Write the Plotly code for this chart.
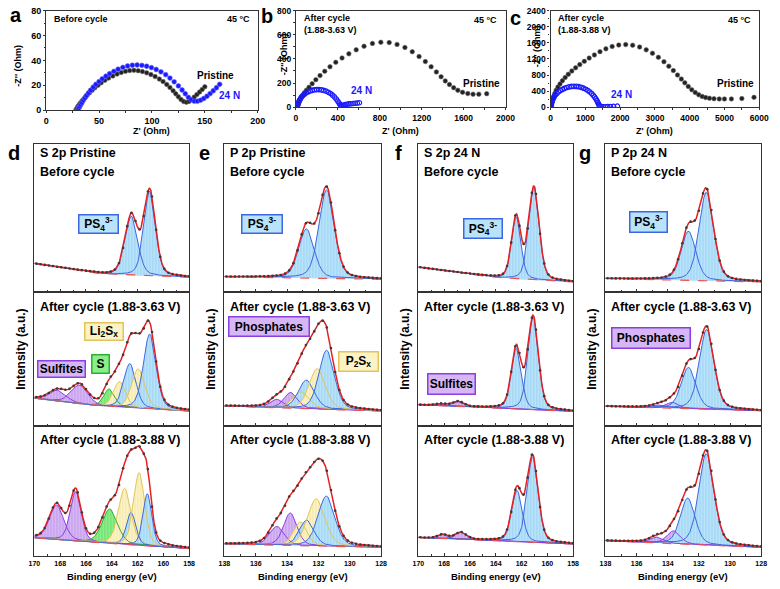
import numpy as np
import plotly.graph_objects as go

FIG_W, FIG_H = 780, 589
FONT = "Liberation Sans"

# ---------------- EIS (Nyquist) data ----------------
# (a) before cycle
a_pri_zre = [28, 28.8, 29.6, 30.5, 31.5, 32.6, 34, 35.5, 37.2, 39, 41, 43.5, 46, 49, 52, 55.5, 59, 63, 67, 71, 75, 79, 83, 87, 91, 95, 99, 103, 107, 110.5, 114, 117, 120, 122.5, 125, 127.5, 130, 132.5, 135, 137.5, 140, 142.5, 145, 147.5, 150]
a_pri_zim = [0, 1.2, 2.4, 3.6, 4.8, 6, 7.5, 9, 10.6, 12.3, 14, 16, 18, 20, 22, 24, 25.8, 27.5, 29, 30.3, 31.2, 31.8, 32, 31.7, 31, 30, 28.6, 27, 25, 23, 20.7, 18.3, 15.6, 13.2, 10.8, 8.6, 7, 6.4, 7, 8.5, 10.5, 12.5, 14.6, 16.7, 18.8]
a_24n_zre = [30, 30.8, 31.7, 32.7, 33.8, 35, 36.5, 38, 40, 42, 44.5, 47, 50, 53, 56.5, 60, 64, 68, 72.5, 77, 81.5, 86, 90.5, 95, 99.5, 104, 108.5, 113, 117, 121, 125, 128.5, 131.5, 134.5, 137, 140, 143, 146, 149, 152, 155, 158, 161, 164]
a_24n_zim = [0, 1.5, 3, 4.5, 6, 7.8, 9.7, 11.6, 13.8, 16, 18.5, 20.8, 23, 25.2, 27.3, 29.3, 31.2, 32.9, 34.4, 35.5, 36.1, 36.3, 36, 35.3, 34.2, 32.7, 30.8, 28.5, 25.8, 22.8, 19.5, 16.2, 13.2, 10.3, 8.3, 7.2, 7.2, 8, 9.4, 11.2, 13.3, 15.6, 18, 20.8]
# (b) after cycle 1.88-3.63 V
b_pri_zre = [15, 22, 30, 40, 52, 66, 82, 100, 125, 155, 190, 230, 275, 325, 380, 440, 505, 575, 650, 730, 810, 890, 965, 1040, 1110, 1175, 1235, 1290, 1340, 1385, 1425, 1465, 1505, 1545, 1590, 1640, 1690, 1745, 1820]
b_pri_zim = [0, 20, 40, 60, 80, 100, 120, 140, 165, 195, 228, 262, 298, 335, 372, 408, 442, 475, 505, 528, 538, 535, 520, 495, 460, 420, 378, 335, 292, 252, 218, 188, 162, 140, 124, 113, 108, 108, 112]
b_24n_zre = [10, 15, 20, 27, 35, 45, 57, 70, 85, 100, 117, 135, 155, 175, 197, 220, 243, 265, 288, 310, 330, 350, 368, 385, 400, 412, 422, 430, 440, 455, 470, 487, 505, 525, 545, 565, 585, 605]
b_24n_zim = [0, 15, 30, 45, 60, 75, 88, 100, 111, 120, 128, 135, 140, 144, 146, 146, 144, 140, 133, 124, 113, 100, 85, 68, 50, 34, 20, 14, 14, 18, 21, 24, 27, 29, 31, 33, 35, 37]
# (c) after cycle 1.88-3.88 V
c_pri_zre = [20, 30, 45, 65, 90, 120, 160, 210, 270, 340, 420, 510, 610, 720, 840, 970, 1110, 1260, 1420, 1590, 1770, 1960, 2160, 2360, 2560, 2750, 2930, 3100, 3260, 3400, 3530, 3650, 3760, 3860, 3960, 4060, 4160, 4260, 4360, 4460, 4570, 4700, 4850, 5000, 5200, 5500, 5850]
c_pri_zim = [0, 60, 130, 200, 270, 340, 420, 500, 580, 660, 740, 820, 900, 980, 1060, 1140, 1220, 1300, 1380, 1450, 1510, 1545, 1555, 1540, 1495, 1425, 1340, 1240, 1130, 1020, 910, 800, 700, 605, 515, 435, 365, 310, 268, 240, 222, 212, 207, 205, 207, 215, 245]
c_24n_zre = [10, 20, 35, 55, 80, 110, 145, 185, 230, 280, 335, 395, 460, 530, 600, 670, 740, 810, 880, 950, 1015, 1075, 1130, 1180, 1225, 1265, 1300, 1330, 1355, 1375, 1395, 1420, 1460, 1510, 1570, 1640, 1720, 1810, 1920]
c_24n_zim = [0, 60, 120, 175, 225, 270, 312, 350, 385, 415, 443, 468, 490, 506, 516, 520, 518, 510, 495, 473, 445, 413, 378, 340, 298, 255, 212, 168, 125, 85, 50, 25, 15, 12, 12, 14, 16, 20, 25]

# ---------------- XPS fits ----------------
# background: (binding energy, intensity) ; peaks: (centre eV, height a.u., FWHM eV, species)
d1_bg = [(158, 15), (164.5, 18), (170, 29)]
d1_peaks = [(162.48, 60, 1.15, 'PS4'), (161.06, 86, 1.05, 'PS4')]
d2_bg = [(158, 15), (165, 20), (170, 28)]
d2_peaks = [(168.2, 11, 1.5, 'SO3'), (166.5, 19, 1.5, 'SO3'), (164.2, 18, 1.0, 'S'),
            (163.4, 26, 1.1, 'LiS'), (162.6, 45, 1.1, 'PS4'), (161.95, 40, 1.2, 'LiS'),
            (161.06, 76, 1.15, 'PS4')]
d3_bg = [(158, 8), (165, 14), (170, 19)]
d3_peaks = [(168.28, 35, 1.3, 'SO3'), (166.8, 50, 1.0, 'SO3'), (164.15, 35, 1.4, 'S'),
            (163.0, 57, 1.15, 'LiS'), (162.5, 33, 0.85, 'PS4'), (161.88, 74, 1.0, 'LiS'),
            (161.24, 53, 0.8, 'PS4')]

e1_bg = [(128, 13), (138, 15.5)]
e1_peaks = [(132.77, 50, 1.15, 'PS4'), (131.48, 90, 1.15, 'PS4')]
e2_bg = [(128, 15), (138, 20)]
e2_peaks = [(134.65, 8.5, 1.0, 'SO3'), (133.77, 16, 1.0, 'SO3'), (133.1, 17, 1.2, 'LiS'),
            (132.77, 29, 1.2, 'PS4'), (132.08, 41, 1.2, 'LiS'), (131.48, 60, 1.15, 'PS4')]
e3_bg = [(128, 9.3), (138, 12.7)]
e3_peaks = [(134.65, 19, 1.1, 'SO3'), (133.8, 33, 1.0, 'SO3'), (133.15, 24, 1.0, 'LiS'),
            (132.75, 26, 1.1, 'PS4'), (132.14, 48, 1.3, 'LiS'), (131.5, 51, 1.25, 'PS4')]

f1_bg = [(158, 10.3), (163.5, 14), (170, 25.3)]
f1_peaks = [(162.41, 63, 0.85, 'PS4'), (161.04, 94, 0.95, 'PS4')]
f2_bg = [(158, 14.7), (170, 21.3)]
f2_peaks = [(168.2, 2, 1.0, 'SO3'), (166.9, 5, 1.0, 'SO3'), (162.4, 62, 0.9, 'PS4'), (161.1, 94, 0.95, 'PS4')]
f3_bg = [(158, 12.7), (170, 19.3)]
f3_peaks = [(168.1, 4, 0.9, 'SO3'), (166.7, 7, 1.0, 'SO3'), (162.35, 52, 0.95, 'PS4'), (161.14, 87, 1.0, 'PS4')]

g1_bg = [(128, 10.3), (138, 13.7)]
g1_peaks = [(132.67, 50, 1.1, 'PS4'), (131.52, 90, 1.1, 'PS4')]
g2_bg = [(128, 15.3), (138, 19.7)]
g2_peaks = [(134.5, 3, 1.0, 'SO3'), (133.7, 6, 0.9, 'SO3'), (132.67, 42, 1.1, 'PS4'), (131.5, 81, 1.1, 'PS4')]
g3_bg = [(128, 9.3), (138, 16)]
g3_peaks = [(134.67, 6, 1.0, 'SO3'), (133.62, 13, 1.0, 'SO3'), (132.72, 47, 1.1, 'PS4'), (131.52, 93, 1.15, 'PS4')]

S_ticks = [170, 168, 166, 164, 162, 160, 158]
P_ticks = [138, 136, 134, 132, 130, 128]

# ---------------- styles ----------------
SPECIES = {
    'PS4': dict(bg='#b9e3fa', fg='#80c2ec', line='#3c67e0'),
    'LiS': dict(bg='#fbf3c6', fg='#eddb8c', line='#e2c45a'),
    'SO3': dict(bg='#d6b6f4', fg='#ae82e2', line='#8a3fe0'),
    'S':   dict(bg='#8aee8a', fg='#50d050', line='#2fae2f'),
}
AX_COL = '#333333'


def fx(p):
    return p / FIG_W


def fy(p):
    return 1 - p / FIG_H


def pv(x, c, h, w, eta=0.3):
    s = w / (2 * np.sqrt(2 * np.log(2)))
    g = np.exp(-(x - c) ** 2 / (2 * s * s))
    lo = 1 / (1 + ((x - c) / (w / 2)) ** 2)
    return h * ((1 - eta) * g + eta * lo)


fig = go.Figure()
layout = dict(width=FIG_W, height=FIG_H, margin=dict(l=0, r=0, t=0, b=0),
              paper_bgcolor='white', plot_bgcolor='white', showlegend=False,
              font=dict(family=FONT, color='black'))
annotations = []


def ann(text, x, y, size, color='black', xanchor='left', yanchor='middle', angle=0, bold=True, **kw):
    annotations.append(dict(text=('<b>%s</b>' % text) if bold else text, x=fx(x), y=fy(y),
                            xref='paper', yref='paper', showarrow=False, xanchor=xanchor,
                            yanchor=yanchor, textangle=angle,
                            font=dict(family=FONT, size=size, color=color), **kw))


def axkeys(i):
    return ('xaxis' if i == 1 else 'xaxis%d' % i, 'yaxis' if i == 1 else 'yaxis%d' % i,
            'x' if i == 1 else 'x%d' % i, 'y' if i == 1 else 'y%d' % i)


# ---------------- Nyquist panels ----------------
nyq = [
    dict(dom=(41, 257, 5.7, 107), xr=[0, 200], xd=50, xm=25, yr=[0, 80], yd=20, ym=10, fs=9,
         pri=(a_pri_zre, a_pri_zim), n24=(a_24n_zre, a_24n_zim), n24open=False),
    dict(dom=(296, 510, 5.7, 104), xr=[0, 2000], xd=400, xm=200, yr=[0, 800], yd=200, ym=100, fs=8.5,
         pri=(b_pri_zre, b_pri_zim), n24=(b_24n_zre, b_24n_zim), n24open=True),
    dict(dom=(556, 769, 5.7, 104), xr=[0, 6000], xd=1000, xm=500, yr=[0, 2400], yd=400, ym=200, fs=8.5,
         pri=(c_pri_zre, c_pri_zim), n24=(c_24n_zre, c_24n_zim), n24open=True),
]
for i, p in enumerate(nyq, start=1):
    xk, yk, xa, ya = axkeys(i)
    x0, x1, y0, y1 = p['dom']
    tickfont_n = dict(family=FONT, size=p['fs'], color='black', weight='bold')
    layout[xk] = dict(domain=[fx(x0), fx(x1)], anchor=ya, range=p['xr'], dtick=p['xd'], tick0=0,
                      showline=True, mirror=True, linecolor=AX_COL, linewidth=1.2, ticks='outside',
                      ticklen=2, tickcolor=AX_COL, minor=dict(dtick=p['xm'], ticks='outside', ticklen=1.5, tickcolor=AX_COL),
                      showgrid=False, zeroline=False, tickfont=tickfont_n)
    layout[yk] = dict(domain=[fy(y1), fy(y0)], anchor=xa, range=p['yr'], dtick=p['yd'], tick0=0,
                      showline=True, mirror=True, linecolor=AX_COL, linewidth=1.2, ticks='outside',
                      ticklen=2, tickcolor=AX_COL, minor=dict(dtick=p['ym'], ticks='outside', ticklen=1.5, tickcolor=AX_COL),
                      showgrid=False, zeroline=False, tickfont=tickfont_n)
    fig.add_trace(go.Scatter(x=p['pri'][0], y=p['pri'][1], mode='markers', xaxis=xa, yaxis=ya,
                             marker=dict(symbol='circle', size=4.5, color='#222222',
                                         line=dict(color='#666666', width=0.6))))
    if p['n24open']:
        mk = dict(symbol='circle-open', size=4.5, color='#1a1aff', line=dict(width=1.2))
    else:
        mk = dict(symbol='circle', size=4.8, color='#1a1aff', line=dict(color='#6a6aff', width=0.6))
    fig.add_trace(go.Scatter(x=p['n24'][0], y=p['n24'][1], mode='markers', xaxis=xa, yaxis=ya, marker=mk))

# Nyquist texts
ann("Before cycle", 47, 14, 9)
ann("45 \u00b0C", 251, 14, 9, xanchor='right')
ann("Pristine", 214, 72, 10, xanchor='center')
ann("24 N", 228, 92, 10, color='#1a1aff', xanchor='center')
ann("After cycle<br>(1.88-3.63 V)", 302, 19, 9, align='left')
ann("45 \u00b0C", 503, 15, 9, xanchor='right')
ann("Pristine", 485, 80, 10, xanchor='center')
ann("24 N", 363, 87, 10, color='#1a1aff', xanchor='center')
ann("After cycle<br>(1.88-3.88 V)", 562, 19, 9, align='left')
ann("45 \u00b0C", 763, 15, 9, xanchor='right')
ann("Pristine", 745, 80, 10, xanchor='center')
ann("24 N", 628, 91, 10, color='#1a1aff', xanchor='center')
for cx in (149, 403, 662):
    ann("Z' (Ohm)", cx, 128, 9, xanchor='center')
ann("-Z'' (Ohm)", 12, 62, 9, xanchor='center', angle=-90)
ann("-Z'' (Ohm)", 284, 50, 9, xanchor='center', angle=-90)
ann("-Z'' (Ohm)", 542, 42, 9, xanchor='center', angle=-90)
for t, x, y in (("a", 10, 10), ("b", 266, 11), ("c", 520, 13)):
    ann(t, x, y, 20, xanchor='center')

# ---------------- XPS panels ----------------
columns = [
    dict(letter='d', title='S 2p Pristine', x0=29, x1=187, rng=[170, 158], ticks=S_ticks,
         data=[(d1_bg, d1_peaks), (d2_bg, d2_peaks), (d3_bg, d3_peaks)]),
    dict(letter='e', title='P 2p Pristine', x0=223, x1=383, rng=[138, 128], ticks=P_ticks,
         data=[(e1_bg, e1_peaks), (e2_bg, e2_peaks), (e3_bg, e3_peaks)]),
    dict(letter='f', title='S 2p 24 N', x0=421, x1=579, rng=[170, 158], ticks=S_ticks,
         data=[(f1_bg, f1_peaks), (f2_bg, f2_peaks), (f3_bg, f3_peaks)]),
    dict(letter='g', title='P 2p 24 N', x0=612, x1=771, rng=[138, 128], ticks=P_ticks,
         data=[(g1_bg, g1_peaks), (g2_bg, g2_peaks), (g3_bg, g3_peaks)]),
]
rows = [(141, 292), (292, 428), (428, 561)]
row_titles = ['Before cycle', 'After cycle (1.88-3.63 V)', 'After cycle (1.88-3.88 V)']
row_title_y = [170, 307, 443]

idx = 4
for col in columns:
    lo_e, hi_e = min(col['rng']), max(col['rng'])
    xs = np.linspace(lo_e, hi_e, 301)
    for r, ((top, bot), (bgpts, peaks)) in enumerate(zip(rows, col['data'])):
        xk, yk, xa, ya = axkeys(idx)
        last = (r == 2)
        layout[xk] = dict(domain=[fx(col['x0']), fx(col['x1'])], anchor=ya, range=col['rng'],
                          tickvals=col['ticks'], showticklabels=last, showline=True, mirror=True,
                          linecolor=AX_COL, linewidth=1.2, ticks='inside', ticklen=3, tickcolor=AX_COL,
                          minor=dict(dtick=1, ticks='inside', ticklen=2, tickcolor=AX_COL),
                          showgrid=False, zeroline=False,
                          tickfont=dict(family=FONT, size=7, color='black', weight='bold'))
        layout[yk] = dict(domain=[fy(bot), fy(top)], anchor=xa, range=[0, bot - top],
                          showticklabels=False, ticks='', showline=True, mirror=True,
                          linecolor=AX_COL, linewidth=1.2, showgrid=False, zeroline=False)
        bx = [b[0] for b in bgpts]
        by = [b[1] for b in bgpts]
        bg = np.interp(xs, bx, by)
        env = bg.copy()
        comps = []
        for (c, h, w, sp) in peaks:
            comp = pv(xs, c, h, w)
            env += comp
            comps.append((comp, sp))
        for comp, sp in comps:
            st = SPECIES[sp]
            fig.add_trace(go.Scatter(
                x=np.concatenate([xs, xs[::-1]]), y=np.concatenate([bg + comp, bg[::-1]]),
                mode='lines', fill='toself', fillcolor=st['bg'], line=dict(width=0),
                fillpattern=dict(shape='|', bgcolor=st['bg'], fgcolor=st['fg'], size=3, solidity=0.35),
                xaxis=xa, yaxis=ya, hoverinfo='skip'))
        for comp, sp in comps:
            st = SPECIES[sp]
            fig.add_trace(go.Scatter(x=xs, y=bg + comp, mode='lines', xaxis=xa, yaxis=ya,
                                     line=dict(color=st['line'], width=1), hoverinfo='skip'))
        fig.add_trace(go.Scatter(x=xs, y=bg, mode='lines', xaxis=xa, yaxis=ya,
                                 line=dict(color='#f05050', width=1.2, dash='dash')))
        fig.add_trace(go.Scatter(x=xs, y=env, mode='lines', xaxis=xa, yaxis=ya,
                                 line=dict(color='#e62020', width=1.5)))
        fig.add_trace(go.Scatter(x=xs[::8], y=env[::8], mode='markers', xaxis=xa, yaxis=ya,
                                 marker=dict(size=2.6, color='#3a3a3a')))
        ann(row_titles[r], col['x0'] + 4, row_title_y[r], 12.5)
        idx += 1
    ann(col['title'], col['x0'] + 4, 151, 12.5)
    ann(col['letter'], col['x0'] - 20.5, 151, 20, xanchor='center')
    ann('Intensity (a.u.)', col['x0'] - 14, 350, 12, xanchor='center', angle=-90)
    ann('Binding energy (eV)', (col['x0'] + col['x1']) / 2, 581, 9.5, xanchor='center')


def box(text, x0, x1, y0, y1, sp, size=12):
    st = SPECIES[sp]
    annotations.append(dict(text='<b>%s</b>' % text, x=fx((x0 + x1) / 2), y=fy((y0 + y1) / 2),
                            xref='paper', yref='paper', showarrow=False, xanchor='center',
                            yanchor='middle', width=x1 - x0 - 3, height=y1 - y0 - 3, borderpad=0,
                            bgcolor=st['bg'], bordercolor=st['line'], borderwidth=1.5,
                            font=dict(family=FONT, size=size, color='black')))


PS4 = 'PS<sub>4</sub><sup>3-</sup>'
box(PS4, 74, 115, 213, 233, 'PS4')
box(PS4, 240, 282, 213, 233, 'PS4')
box(PS4, 467, 507, 217, 238, 'PS4')
box(PS4, 636, 675, 210, 232, 'PS4')
box('Li<sub>2</sub>S<sub>x</sub>', 80, 120, 323, 342, 'LiS')
box('S', 87, 106, 355, 375, 'S')
box('Sulfites', 32, 81, 361, 379, 'SO3')
box('Phosphates', 228, 310, 317, 338, 'SO3')
box('P<sub>2</sub>S<sub>x</sub>', 339, 380, 352, 373, 'LiS')
box('Sulfites', 430, 479, 375, 397, 'SO3')
box('Phosphates', 618, 698, 328, 350, 'SO3')

layout['annotations'] = annotations
fig.update_layout(**layout)
fig.write_html("out.html")
